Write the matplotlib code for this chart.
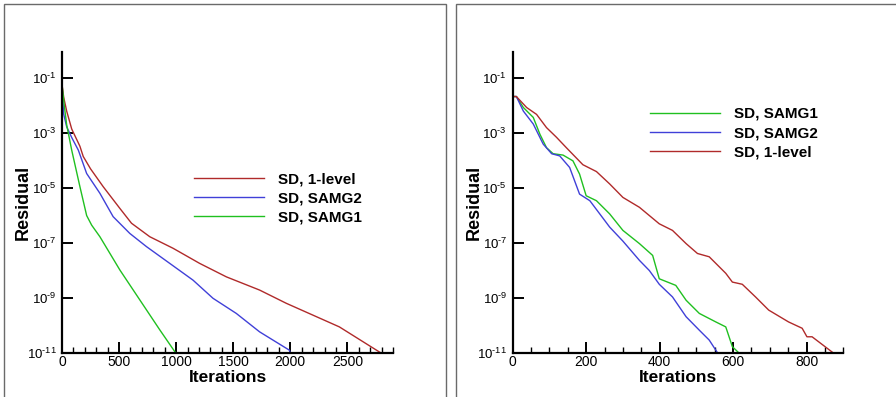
import matplotlib
matplotlib.use("Agg")
import matplotlib.pyplot as plt
import numpy as np
from matplotlib.ticker import FixedLocator, MultipleLocator, FuncFormatter, NullLocator
from matplotlib.patches import Rectangle
from matplotlib import font_manager

# ---------------- data ----------------
# Left panel
l_red_it = [0, 15, 41, 85, 157, 186, 250, 361, 507, 609, 769, 973, 1206, 1440, 1731, 1964, 2430, 2795]
l_red_lg = [-1.23, -1.7, -2.2, -2.85, -3.48, -3.85, -4.3, -4.95, -5.74, -6.28, -6.77, -7.19, -7.74,
            -8.23, -8.71, -9.19, -10.05, -11.0]
l_blue_it = [0, 14, 41, 85, 143, 216, 332, 448, 594, 740, 944, 1148, 1323, 1527, 1731, 1993, 2000]
l_blue_lg = [-1.23, -2.3, -2.77, -3.16, -3.62, -4.47, -5.19, -6.04, -6.65, -7.13, -7.74, -8.35,
             -9.01, -9.56, -10.23, -10.9, -11.0]
l_green_it = [0, 20, 41, 85, 157, 216, 260, 332, 507, 682, 857, 988, 1000]
l_green_lg = [-1.23, -2.0, -2.7, -3.62, -4.95, -6.0, -6.35, -6.77, -7.98, -9.07, -10.16, -10.95, -11.0]

# Right panel
r_red_it = [0, 10, 38, 65, 92, 119, 146, 191, 228, 264, 300, 345, 399, 435, 472, 503, 535, 580,
            598, 625, 661, 697, 751, 788, 801, 815, 873]
r_red_lg = [-1.67, -1.67, -2.07, -2.32, -2.8, -3.15, -3.53, -4.15, -4.4, -4.85, -5.34, -5.7, -6.3,
            -6.54, -7.02, -7.38, -7.5, -8.1, -8.42, -8.5, -8.96, -9.44, -9.87, -10.1, -10.41, -10.41, -11.0]
r_green_it = [0, 10, 29, 56, 74, 92, 110, 137, 164, 182, 200, 228, 264, 300, 345, 381, 399,
              444, 472, 508, 553, 580, 598, 616]
r_green_lg = [-1.67, -1.67, -2.07, -2.43, -3.04, -3.53, -3.75, -3.8, -4.01, -4.49, -5.28, -5.46,
              -5.94, -6.54, -7.02, -7.45, -8.3, -8.54, -9.08, -9.56, -9.87, -10.05, -10.77, -11.0]
r_blue_it = [0, 10, 29, 56, 83, 106, 128, 155, 182, 210, 237, 264, 300, 345, 372, 399, 435,
             472, 508, 535, 557]
r_blue_lg = [-1.67, -1.67, -2.2, -2.67, -3.4, -3.75, -3.83, -4.25, -5.22, -5.46, -5.94, -6.42,
             -6.93, -7.63, -8.0, -8.5, -8.96, -9.68, -10.17, -10.53, -10.98]

left_labels = ["SD, 1-level", "SD, SAMG2", "SD, SAMG1"]
right_labels = ["SD, SAMG1", "SD, SAMG2", "SD, 1-level"]
ytick_vals = [1e-11, 1e-9, 1e-7, 1e-5, 1e-3, 1e-1]

RED = "#b02a2a"
BLUE = "#4040d8"
GREEN = "#20c020"

names = {f.name for f in font_manager.fontManager.ttflist}
SANS = "Liberation Sans" if "Liberation Sans" in names else "DejaVu Sans"
NARROW = "Liberation Sans Narrow" if "Liberation Sans Narrow" in names else SANS
plt.rcParams["font.family"] = [SANS, "DejaVu Sans"]
plt.rcParams["mathtext.fontset"] = "custom"
plt.rcParams["mathtext.rm"] = NARROW
plt.rcParams["mathtext.it"] = NARROW
plt.rcParams["mathtext.bf"] = NARROW

W, H = 896, 397
fig = plt.figure(figsize=(W / 100, H / 100), dpi=100)

# outer frames
fig.patches.append(Rectangle((3.5 / W, -0.05), (446 - 3.5) / W, 1.05 - 3.5 / H,
                             transform=fig.transFigure, fill=False, edgecolor="#6a6a6a", lw=1.0))
fig.patches.append(Rectangle((455.5 / W, -0.05), 0.6, 1.05 - 3.5 / H,
                             transform=fig.transFigure, fill=False, edgecolor="#6a6a6a", lw=1.0))

ax_top = 52
ax_bot = 353


def ylab(v, pos):
    e = int(round(np.log10(v)))
    return "$\\mathregular{10^{\u2010%d}}$" % abs(e)


def make_ax(x0, x1, xmax, major, minor):
    ax = fig.add_axes([x0 / W, 1 - ax_bot / H, (x1 - x0) / W, (ax_bot - ax_top) / H])
    ax.set_yscale("log")
    ax.set_ylim(1e-11, 10 ** -0.05)
    ax.set_xlim(0, xmax)
    ax.spines["top"].set_visible(False)
    ax.spines["right"].set_visible(False)
    for s in ("left", "bottom"):
        ax.spines[s].set_linewidth(1.6)
    ax.yaxis.set_major_locator(FixedLocator(ytick_vals))
    ax.yaxis.set_minor_locator(NullLocator())
    ax.yaxis.set_major_formatter(FuncFormatter(ylab))
    ax.xaxis.set_major_locator(MultipleLocator(major))
    ax.xaxis.set_minor_locator(MultipleLocator(minor))
    ax.tick_params(axis="both", which="major", direction="in", length=8, width=1.4)
    ax.tick_params(axis="x", which="minor", direction="in", length=4, width=1.0)
    ax.tick_params(axis="y", which="major", pad=4, labelsize=9.5)
    ax.tick_params(axis="x", which="major", pad=1.5, labelsize=10)
    ax.set_ylabel("Residual", fontsize=13, fontweight="bold")
    ax.set_xlabel("Iterations", fontsize=12.5, fontweight="bold")
    ax.yaxis.set_label_coords(-0.091, 0.5)
    ax.xaxis.set_label_coords(0.5, -0.055)
    ax.patch.set_alpha(0)
    return ax


axL = make_ax(62, 393, 2900, 500, 100)
axR = make_ax(512.7, 843.3, 900, 200, 50)

hL = []
hL += axL.plot(l_red_it, 10 ** np.array(l_red_lg), color=RED, lw=1.0)
hL += axL.plot(l_blue_it, 10 ** np.array(l_blue_lg), color=BLUE, lw=1.0)
hL += axL.plot(l_green_it, 10 ** np.array(l_green_lg), color=GREEN, lw=1.0)

hR = []
hR += axR.plot(r_green_it, 10 ** np.array(r_green_lg), color=GREEN, lw=1.0)
hR += axR.plot(r_blue_it, 10 ** np.array(r_blue_lg), color=BLUE, lw=1.0)
hR += axR.plot(r_red_it, 10 ** np.array(r_red_lg), color=RED, lw=1.0)

for a in (axL, axR):
    for lab in a.get_xticklabels() + a.get_yticklabels():
        lab.set_fontfamily(NARROW)

legprops = dict(frameon=False, handlelength=4.6, handletextpad=0.9, labelspacing=0.33,
                borderpad=0, borderaxespad=0, loc="upper left",
                prop={"family": SANS, "weight": "bold", "size": 11})
fig.legend(hL, left_labels, bbox_to_anchor=(194 / W, 1 - 172 / H),
           bbox_transform=fig.transFigure, **legprops)
fig.legend(hR, right_labels, bbox_to_anchor=(650 / W, 1 - 107 / H),
           bbox_transform=fig.transFigure, **legprops)

fig.savefig("out.png", dpi=100)
